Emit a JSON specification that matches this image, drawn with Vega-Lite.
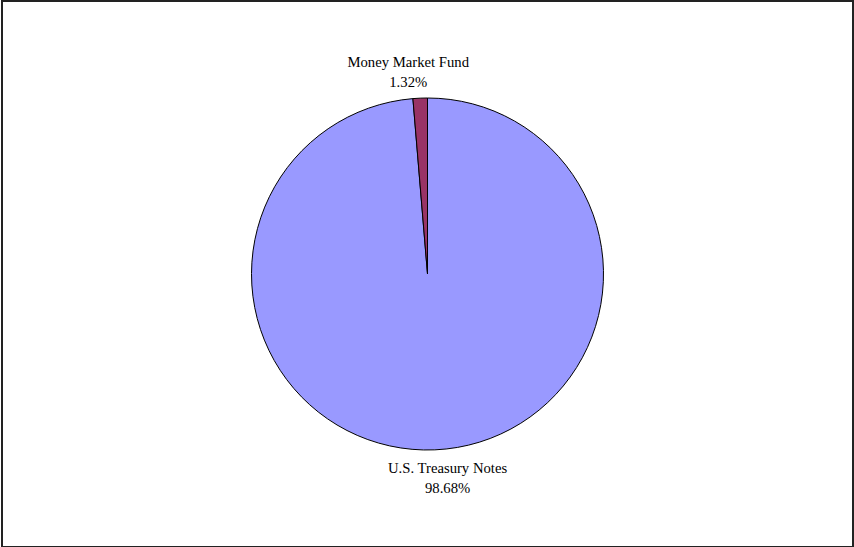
{
  "$schema": "https://vega.github.io/schema/vega-lite/v6.json",
  "width": 854,
  "height": 547,
  "autosize": {"type": "fit", "contains": "padding"},
  "padding": {"left": 2, "top": 1, "right": 1, "bottom": 0},
  "background": "white",
  "view": {"stroke": "#222222", "strokeWidth": 2},
  "data": {
    "values": [
      {"category": "U.S. Treasury Notes", "value": 98.68, "label": "U.S. Treasury Notes\n98.68%"},
      {"category": "Money Market Fund", "value": 1.32, "label": "Money Market Fund\n1.32%"}
    ]
  },
  "encoding": {
    "theta": {"field": "value", "type": "quantitative", "stack": true},
    "order": {"field": "category", "type": "nominal", "sort": "descending"}
  },
  "layer": [
    {
      "mark": {"type": "arc", "outerRadius": 176, "stroke": "black", "strokeWidth": 1},
      "encoding": {
        "color": {
          "field": "category",
          "type": "nominal",
          "scale": {"domain": ["U.S. Treasury Notes", "Money Market Fund"], "range": ["#9999FF", "#993366"]},
          "legend": null
        }
      }
    },
    {
      "transform": [{"filter": "datum.category === 'Money Market Fund'"}],
      "mark": {"type": "text", "radius": 211, "dx": -28, "font": "Liberation Serif", "fontSize": 14.7, "lineBreak": "\n", "lineHeight": 20, "baseline": "middle", "align": "center", "color": "black"},
      "encoding": {
        "text": {"field": "label", "type": "nominal"}
      }
    },
    {
      "transform": [{"filter": "datum.category === 'U.S. Treasury Notes'"}],
      "mark": {"type": "text", "radius": 195, "dx": 12, "font": "Liberation Serif", "fontSize": 14.7, "lineBreak": "\n", "lineHeight": 20, "baseline": "middle", "align": "center", "color": "black"},
      "encoding": {
        "text": {"field": "label", "type": "nominal"}
      }
    }
  ]
}
